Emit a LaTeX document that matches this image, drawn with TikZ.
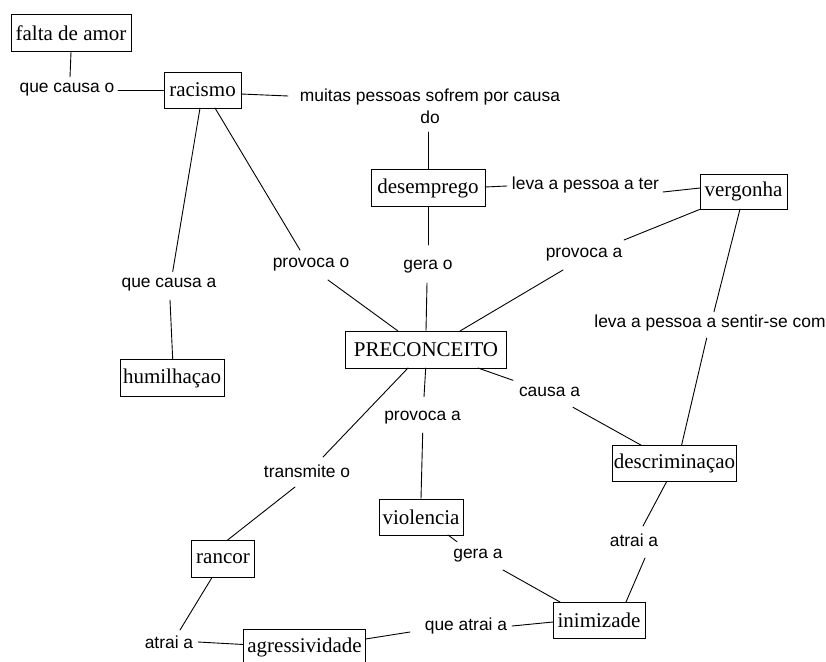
\documentclass[tikz,border=0pt]{standalone}
\usepackage{fontspec}
\setmainfont{Liberation Serif}
\newfontfamily\labfont{Liberation Sans}
\usetikzlibrary{calc}
\tikzset{
  box/.style={draw, line width=1pt, inner sep=0pt, minimum height=36,
    font=\fontsize{21}{24}\selectfont},
  lab/.style={inner sep=0pt, font=\labfont\fontsize{17.4}{22}\selectfont, align=center},
  con/.style={line width=0.9pt, line cap=round}
}
\begin{document}
\begin{tikzpicture}[x=1pt,y=-1pt]
\fill[white] (0,0) rectangle (826,661);
\useasboundingbox (0,0) rectangle (826,661);
% concept boxes
\node[box, minimum width=120, minimum height=37] (fa) at (71,33.5) {falta de amor};
\node[box, minimum width=77] (rac) at (202.5,90) {racismo};
\node[box, minimum width=114, minimum height=37] (des) at (428,188) {desemprego};
\node[box, minimum width=87, minimum height=35] (ver) at (743.5,191.5) {vergonha};
\node[box, minimum width=161, minimum height=37] (pre) at (426,349.5) {PRECONCEITO};
\node[box, minimum width=104, minimum height=37] (hum) at (172,378) {humilhaçao};
\node[box, minimum width=124] (dis) at (674.5,463.5) {descriminaçao};
\node[box, minimum width=84] (vio) at (421,517) {violencia};
\node[box, minimum width=63, minimum height=37] (ran) at (223,559) {rancor};
\node[box, minimum width=122, minimum height=37] (agr) at (304.5,647.5) {agressividade};
\node[box, minimum width=92] (ini) at (599,620) {inimizade};
% linking labels
\node[lab] (l1) at (67,90) {que causa o};
\node[lab] (l2) at (430,106) {muitas pessoas sofrem por causa\\do};
\node[lab] (l3) at (585.5,185) {leva a pessoa a ter};
\node[lab] (l4) at (584,255) {provoca a};
\node[lab] (l5) at (428,267) {gera o};
\node[lab] (l6) at (311,265) {provoca o};
\node[lab] (l7) at (169,285) {que causa a};
\node[lab] (l8) at (710,323) {leva a pessoa a sentir-se com};
\node[lab] (l9) at (549.5,392) {causa a};
\node[lab] (l10) at (422.5,418) {provoca a};
\node[lab] (l11) at (307,471.5) {transmite o};
\node[lab] (l12) at (478,556) {gera a};
\node[lab] (l13) at (634,540) {atrai a};
\node[lab] (l14) at (169,642) {atrai a};
\node[lab] (l15) at (466,626) {que atrai a};
% connectors
\draw[con] ($(fa)+(0,18.5)$) -- ($(l1)+(3,-13)$);
\draw[con] ($(l1)+(51,0)$) -- (rac.west);
\draw[con] ($(rac)+(38.5,4)$) -- ($(l2)+(-142,-10)$);
\draw[con] ($(l2)+(-2,26)$) -- (des.north);
\draw[con] ($(des)+(57,-1)$) -- ($(l3)+(-78.5,1)$);
\draw[con] ($(l3)+(77.5,7)$) -- ($(ver)+(-43.5,-3.5)$);
\draw[con] (ver.south west) -- ($(l4)+(40,-15)$);
\draw[con] ($(l4)+(-21,15)$) -- ($(pre)+(34,-18.5)$);
\draw[con] (des.south) -- ($(l5)+(0,-22)$);
\draw[con] ($(l5)+(-1,16)$) -- (pre.north);
\draw[con] ($(rac)+(12.5,18)$) -- ($(l6)+(-11,-15)$);
\draw[con] ($(l6)+(17,15)$) -- ($(pre)+(-28,-18.5)$);
\draw[con] ($(rac)+(-2.5,18)$) -- ($(l7)+(3.7,-13.3)$);
\draw[con] ($(l7)+(1,15)$) -- ($(hum)+(0.7,-18.5)$);
\draw[con] ($(ver)+(-3.5,17.5)$) -- ($(l8)+(4,-11.3)$);
\draw[con] ($(l8)+(-3.3,15)$) -- ($(dis)+(7,-18)$);
\draw[con] ($(pre)+(52,18.5)$) -- ($(l9)+(-36.5,-11.7)$);
\draw[con] ($(l9)+(23.5,15.3)$) -- ($(dis)+(-32.8,-18)$);
\draw[con] ($(pre)+(-0.3,18.5)$) -- ($(l10)+(1.5,-21.3)$);
\draw[con] ($(l10)+(0.2,15)$) -- (vio.north);
\draw[con] ($(pre)+(-18,18.5)$) -- ($(l11)+(16,-14.5)$);
\draw[con] ($(l11)+(-12,15.5)$) -- ($(ran)+(4,-18.5)$);
\draw[con] ($(vio)+(27,18)$) -- ($(l12)+(-21,-14.3)$);
\draw[con] ($(l12)+(25,14)$) -- ($(ini)+(-39,-18)$);
\draw[con] ($(dis)+(-7.8,18)$) -- ($(l13)+(9,-14)$);
\draw[con] ($(l13)+(11,18)$) -- ($(ini)+(27,-18)$);
\draw[con] ($(ran)+(-11,18.5)$) -- ($(l14)+(11,-12)$);
\draw[con] ($(l14)+(29,0)$) -- ($(agr)+(-61,-3)$);
\draw[con] ($(agr)+(61,-8.5)$) -- ($(l15)+(-56,6)$);
\draw[con] ($(l15)+(46,0)$) -- ($(ini)+(-46,2)$);
\end{tikzpicture}
\end{document}
